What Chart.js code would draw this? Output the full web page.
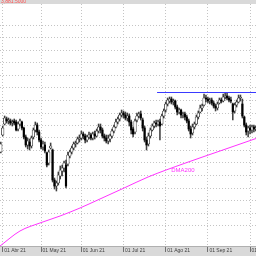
<!DOCTYPE html>
<html>
<head>
<meta charset="utf-8">
<script src="https://cdn.jsdelivr.net/npm/chart.js@4.4.0/dist/chart.umd.min.js"></script>
<style>
  html, body { margin: 0; padding: 0; background: #fff; }
  #wrap { width: 256px; height: 256px; }
</style>
</head>
<body>
<div id="wrap"><canvas id="chart" width="256" height="256"></canvas></div>
<script>
// Daily bars, one per trading day (index 0 = 31 Mar 21)
const opens = [
  3972, 4006, 4028, 4038, 4034, 4034, 4030, 4034, 4032, 4018,
  4028, 4032, 4020, 4002, 3986, 3992, 3984, 4002, 4016, 4026,
  4012, 3996, 3982, 3986, 3970, 3950, 3980, 3976, 3916, 3904,
  3910, 3924, 3934, 3940, 3946, 3948, 3964, 3972, 3980, 3988,
  3990, 3998, 4000, 4008, 4004, 3996, 4002, 4006, 4000, 4008,
  4004, 4014, 4022, 4016, 4004, 4000, 3994, 3998, 4004, 4014,
  4022, 4032, 4038, 4046, 4050, 4046, 4040, 4044, 4032, 4018,
  4012, 4036, 4044, 4048, 4036, 4020, 3996, 3988, 4004, 4016,
  4024, 4030, 4028, 4032, 4028, 4044, 4056, 4068, 4074, 4078,
  4072, 4074, 4062, 4052, 4056, 4046, 4048, 4042, 4034, 4018,
  4010, 4022, 4028, 4042, 4052, 4060, 4066, 4080, 4078, 4074,
  4076, 4070, 4064, 4060, 4070, 4076, 4074, 4082, 4084, 4080,
  4076, 4068, 4054, 4066, 4072, 4080, 4068, 4042, 4026, 4014,
  4020, 4016, 4022, 4018
];
const highs = [
  3992, 4024, 4044, 4042, 4040, 4038, 4036, 4038, 4036, 4032,
  4038, 4034, 4022, 4006, 4000, 3998, 4004, 4020, 4032, 4030,
  4016, 4000, 3994, 3992, 3972, 3976, 3990, 3978, 3920, 3914,
  3932, 3944, 3946, 3954, 3956, 3972, 3976, 3984, 3992, 3994,
  4002, 4006, 4014, 4012, 4008, 4006, 4012, 4010, 4012, 4014,
  4018, 4028, 4028, 4020, 4008, 4006, 4006, 4008, 4018, 4026,
  4038, 4042, 4050, 4056, 4054, 4052, 4050, 4048, 4036, 4022,
  4038, 4050, 4052, 4054, 4040, 4024, 4002, 4010, 4020, 4028,
  4034, 4036, 4036, 4038, 4048, 4058, 4072, 4080, 4082, 4082,
  4078, 4076, 4066, 4060, 4058, 4052, 4052, 4046, 4038, 4024,
  4028, 4032, 4046, 4054, 4066, 4068, 4088, 4086, 4082, 4080,
  4080, 4074, 4068, 4072, 4080, 4080, 4088, 4090, 4090, 4084,
  4082, 4070, 4070, 4076, 4086, 4086, 4078, 4044, 4030, 4024,
  4026, 4026, 4026, 4024
];
const lows = [
  3970, 4004, 4026, 4030, 4028, 4026, 4024, 4026, 4014, 4014,
  4024, 4016, 3998, 3982, 3978, 3976, 3980, 3998, 4012, 4006,
  3992, 3978, 3976, 3970, 3942, 3946, 3978, 3912, 3898, 3894,
  3906, 3918, 3924, 3932, 3900, 3944, 3960, 3968, 3976, 3982,
  3988, 3992, 3996, 3998, 3990, 3992, 3998, 3996, 3996, 3998,
  4002, 4010, 4010, 4000, 3994, 3990, 3988, 3992, 4000, 4010,
  4020, 4028, 4034, 4042, 4040, 4036, 4034, 4024, 4008, 4002,
  4008, 4032, 4040, 4036, 4014, 3992, 3976, 3984, 4000, 4014,
  4020, 4022, 4024, 3996, 4026, 4040, 4052, 4064, 4070, 4068,
  4066, 4058, 4046, 4048, 4040, 4040, 4036, 4030, 4014, 4000,
  4006, 4018, 4026, 4038, 4050, 4054, 4064, 4072, 4070, 4068,
  4066, 4060, 4054, 4056, 4068, 4070, 4072, 4078, 4076, 4072,
  4070, 4036, 4050, 4062, 4070, 4074, 4040, 4022, 4006, 4002,
  4008, 4010, 4012, 4014
];
const closes = [
  3988, 4020, 4040, 4034, 4036, 4030, 4032, 4030, 4016, 4028,
  4034, 4020, 4002, 3986, 3994, 3984, 4000, 4016, 4026, 4012,
  3996, 3982, 3988, 3974, 3946, 3972, 3984, 3916, 3904, 3910,
  3926, 3936, 3940, 3950, 3904, 3966, 3972, 3980, 3988, 3990,
  3998, 4000, 4008, 4004, 3996, 4002, 4006, 4000, 4008, 4004,
  4014, 4022, 4016, 4004, 4000, 3994, 4000, 4004, 4014, 4022,
  4032, 4038, 4046, 4050, 4046, 4040, 4044, 4032, 4016, 4008,
  4034, 4044, 4048, 4040, 4020, 3996, 3986, 4004, 4016, 4024,
  4030, 4028, 4032, 4024, 4044, 4054, 4068, 4076, 4078, 4072,
  4074, 4062, 4052, 4056, 4046, 4048, 4042, 4034, 4018, 4008,
  4022, 4028, 4042, 4050, 4060, 4064, 4080, 4078, 4074, 4076,
  4070, 4064, 4060, 4068, 4076, 4074, 4082, 4084, 4080, 4076,
  4074, 4052, 4066, 4072, 4080, 4082, 4044, 4026, 4012, 4020,
  4016, 4022, 4018, 4020
];

// Month ticks (bar index of first trading day) and their labels
const monthIdx = [1, 21, 42, 64, 86, 108, 130];
const monthLabels = ["01 Abr 21", "01 May 21", "01 Jun 21", "01 Jul 21", "01 Ago 21", "01 Sep 21", "01 Oct 21"];

const dmaIdx = [-0.4, 10, 20.4, 30.9, 41.3, 51.7, 64.3, 76.8, 95.6, 114.3, 133.1];
const dmaVals = [3784, 3814, 3830, 3844, 3860, 3878, 3900, 3922, 3949, 3974, 3999];
const dmaLabel = "DMA200";
const dmaLabelAt = [95, 3936];

// Resistance line
const resistLevel = 4091;
const resistFrom = 81.5;

const headerText = "3,881.5000";

// Build bar datasets
const wickData = highs.map((h, i) => ({ x: i, y: [lows[i], h] }));
const upData = [];
const downData = [];
closes.forEach((c, i) => {
  const o = opens[i];
  if (c >= o) upData.push({ x: i, y: [o, c] });
  else downData.push({ x: i, y: [c, o] });
});

const bandsPlugin = {
  id: "bands",
  beforeDraw(chart) {
    const ctx = chart.ctx;
    const area = chart.chartArea;
    ctx.save();
    ctx.fillStyle = "#ffffff";
    ctx.fillRect(0, 0, chart.width, chart.height);
    ctx.fillStyle = "#d9d9d9";
    ctx.fillRect(0, 0, chart.width, area.top);
    ctx.fillRect(0, area.bottom, chart.width, chart.height - area.bottom);
    ctx.fillStyle = "#ff5050";
    ctx.font = "5px Arial";
    ctx.textBaseline = "bottom";
    ctx.fillText(headerText, 1, area.top + 0.5);
    ctx.restore();
  },
  afterDatasetsDraw(chart) {
    const ctx = chart.ctx;
    const xs = chart.scales.x;
    const ys = chart.scales.y;
    ctx.save();
    ctx.fillStyle = "#ff33ff";
    ctx.font = "6px Arial";
    ctx.textAlign = "center";
    ctx.textBaseline = "middle";
    ctx.fillText(dmaLabel, xs.getPixelForValue(dmaLabelAt[0]), ys.getPixelForValue(dmaLabelAt[1]));
    ctx.restore();
  }
};

new Chart(document.getElementById("chart"), {
  type: "bar",
  data: {
    datasets: [
      {
        type: "line",
        data: [{ x: resistFrom, y: resistLevel }, { x: 133.1, y: resistLevel }],
        borderColor: "#3a3aff",
        borderWidth: 1,
        pointRadius: 0,
        order: -1
      },
      {
        data: downData,
        backgroundColor: "#000000",
        borderWidth: 0,
        barThickness: 1.5,
        grouped: false,
        order: 0
      },
      {
        data: upData,
        backgroundColor: "#ffffff",
        borderColor: "#202020",
        borderWidth: 0.7,
        borderSkipped: false,
        barThickness: 2.6,
        grouped: false,
        order: 0
      },
      {
        data: wickData,
        backgroundColor: "#404040",
        borderWidth: 0,
        barThickness: 0.9,
        grouped: false,
        order: 1
      },
      {
        type: "line",
        data: dmaIdx.map((x, i) => ({ x: x, y: dmaVals[i] })),
        borderColor: "#ff33ff",
        borderWidth: 1,
        pointRadius: 0,
        cubicInterpolationMode: "monotone",
        order: 2
      }
    ]
  },
  options: {
    responsive: false,
    animation: false,
    devicePixelRatio: 1,
    layout: { padding: { top: 4, left: 0, right: 0, bottom: 0 } },
    plugins: {
      legend: { display: false },
      tooltip: { enabled: false }
    },
    scales: {
      x: {
        type: "linear",
        offset: false,
        min: -0.42,
        max: 133.1,
        afterBuildTicks: (s) => {
          s.ticks = monthIdx.map((v) => ({ value: v }));
        },
        afterFit: (s) => {
          s.height = 10;
          s.paddingLeft = 0;
          s.paddingRight = 0;
        },
        grid: {
          offset: false,
          color: "#c4c4c4",
          tickColor: "#707070",
          tickLength: 6
        },
        border: { display: true, color: "#b0b0b0", dash: [1, 2] },
        ticks: {
          autoSkip: false,
          maxRotation: 0,
          align: "start",
          labelOffset: 1.5,
          padding: -4,
          color: "#404040",
          font: { family: "Arial", size: 5 },
          callback: (value, index) => monthLabels[index]
        }
      },
      y: {
        min: 3784,
        max: 4268,
        ticks: { display: false, stepSize: 25 },
        afterBuildTicks: (s) => {
          s.ticks = s.ticks.filter((t) => t.value % 25 === 0);
        },
        afterFit: (s) => {
          s.width = 0;
        },
        grid: { color: "#c4c4c4", drawTicks: false },
        border: { display: false, dash: [1, 2] }
      }
    }
  },
  plugins: [bandsPlugin]
});
</script>
</body>
</html>
